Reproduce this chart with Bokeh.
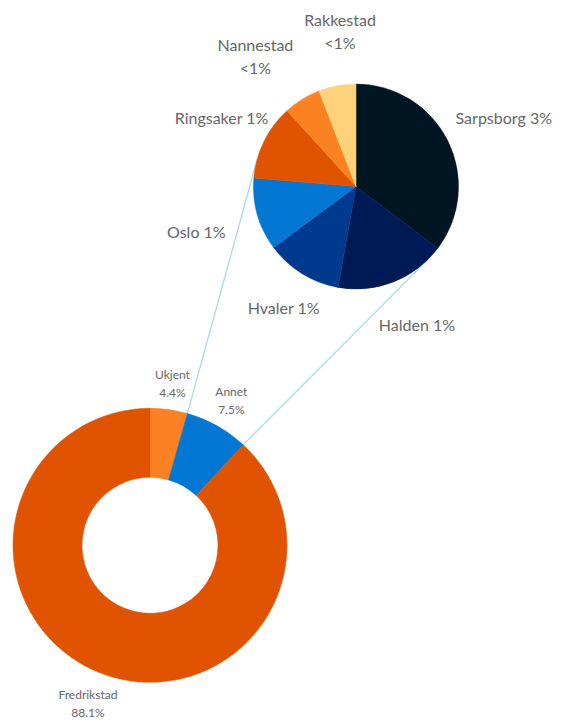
import math
from bokeh.plotting import figure
from bokeh.models import Range1d, ColumnDataSource
from bokeh.core.properties import value
from bokeh.embed import file_html
from bokeh.resources import INLINE

# ---- data ----
donut_names = ["Ukjent", "Annet", "Fredrikstad"]
donut_values = [4.4, 7.5, 88.1]
donut_labels = ["Ukjent\n4.4%", "Annet\n7.5%", "Fredrikstad\n88.1%"]
donut_colors = ["#fb8124", "#0377d2", "#e05300"]

pie_names = ["Sarpsborg", "Halden", "Hvaler", "Oslo", "Ringsaker", "Nannestad", "Rakkestad"]
pie_values = [2.64, 1.31, 0.90, 0.86, 0.89, 0.44, 0.44]
pie_labels = ["Sarpsborg 3%", "Halden 1%", "Hvaler 1%", "Oslo 1%", "Ringsaker 1%",
              "Nannestad\n<1%", "Rakkestad\n<1%"]
pie_colors = ["#021523", "#001a55", "#003a8e", "#0377d2", "#e05300", "#fa8221", "#fdd27a"]

# ---- layout ----
W, H = 563, 722
DONUT_C = (149.5, H - 544.8)
DONUT_R_OUT, DONUT_R_IN = 137.0, 68.0
PIE_C = (355.5, H - 186.0)
PIE_R = 102.5
PIE_LABEL_R = [163, 151, 141, 166, 151, 165, 156]
PIE_LABEL_NUDGE_DEG = [1.5, -2.4, -1.0, 0.0, 1.0, -5.8, 4.7]
DONUT_LABEL_R = [163, 166, 170]
TEXT_COLOR = "#666666"
LINK_COLOR = "#a5dcee"
FONT = "Lato"


def wedge_angles(vals):
    tot = float(sum(vals))
    starts, ends, mids = [], [], []
    cum = 0.0
    for v in vals:
        s = math.pi / 2 - 2 * math.pi * cum / tot
        cum += v
        e = math.pi / 2 - 2 * math.pi * cum / tot
        starts.append(s)
        ends.append(e)
        mids.append((s + e) / 2)
    return starts, ends, mids


p = figure(width=W, height=H, x_range=Range1d(0, W), y_range=Range1d(0, H),
           output_backend="svg", toolbar_location=None, min_border=0)
p.axis.visible = False
p.xgrid.visible = False
p.ygrid.visible = False
p.outline_line_color = None
p.background_fill_color = "white"
p.border_fill_color = "white"

# ---- donut ----
ds, de, dm = wedge_angles(donut_values)

# ---- connector lines (tangents from donut slice edges to the pie) ----
def tangent_points(px, py, cx, cy, r):
    vx, vy = px - cx, py - cy
    d = math.hypot(vx, vy)
    phi = math.atan2(vy, vx)
    a = math.acos(r / d)
    return [(cx + r * math.cos(phi + s * a), cy + r * math.sin(phi + s * a)) for s in (1, -1)]

annet_idx = donut_names.index("Annet")
edge_a = ds[annet_idx]
edge_b = de[annet_idx]
for ang, pick in ((edge_a, min), (edge_b, max)):
    px = DONUT_C[0] + DONUT_R_OUT * math.cos(ang)
    py = DONUT_C[1] + DONUT_R_OUT * math.sin(ang)
    tps = tangent_points(px, py, PIE_C[0], PIE_C[1], PIE_R)
    tx, ty = pick(tps, key=lambda t: t[0])
    p.line([px, tx], [py, ty], line_color=LINK_COLOR, line_width=1.3)

dsrc = ColumnDataSource(dict(start=ds, end=de, color=donut_colors))
p.annular_wedge(x=DONUT_C[0], y=DONUT_C[1], inner_radius=DONUT_R_IN, outer_radius=DONUT_R_OUT,
                start_angle="start", end_angle="end", direction="clock",
                fill_color="color", line_color="color", line_width=0.5, source=dsrc)

dlx = [DONUT_C[0] + r * math.cos(m) for r, m in zip(DONUT_LABEL_R, dm)]
dly = [DONUT_C[1] + r * math.sin(m) for r, m in zip(DONUT_LABEL_R, dm)]
p.text(x=dlx, y=dly, text=donut_labels, text_font=value(FONT), text_font_size="12px",
       text_color=TEXT_COLOR, text_align="center", text_baseline="middle",
       text_line_height=1.2)

# ---- pie ----
ps, pe, pm = wedge_angles(pie_values)
psrc = ColumnDataSource(dict(start=ps, end=pe, color=pie_colors))
p.wedge(x=PIE_C[0], y=PIE_C[1], radius=PIE_R, start_angle="start", end_angle="end",
        direction="clock", fill_color="color", line_color="color", line_width=0.5, source=psrc)

pm_adj = [m - math.radians(n) for m, n in zip(pm, PIE_LABEL_NUDGE_DEG)]
plx = [PIE_C[0] + r * math.cos(m) for r, m in zip(PIE_LABEL_R, pm_adj)]
ply = [PIE_C[1] + r * math.sin(m) for r, m in zip(PIE_LABEL_R, pm_adj)]
p.text(x=plx, y=ply, text=pie_labels, text_font=value(FONT), text_font_size="16px",
       text_color=TEXT_COLOR, text_align="center", text_baseline="middle",
       text_line_height=1.2)

open("out.html", "w").write(file_html(p, INLINE))
